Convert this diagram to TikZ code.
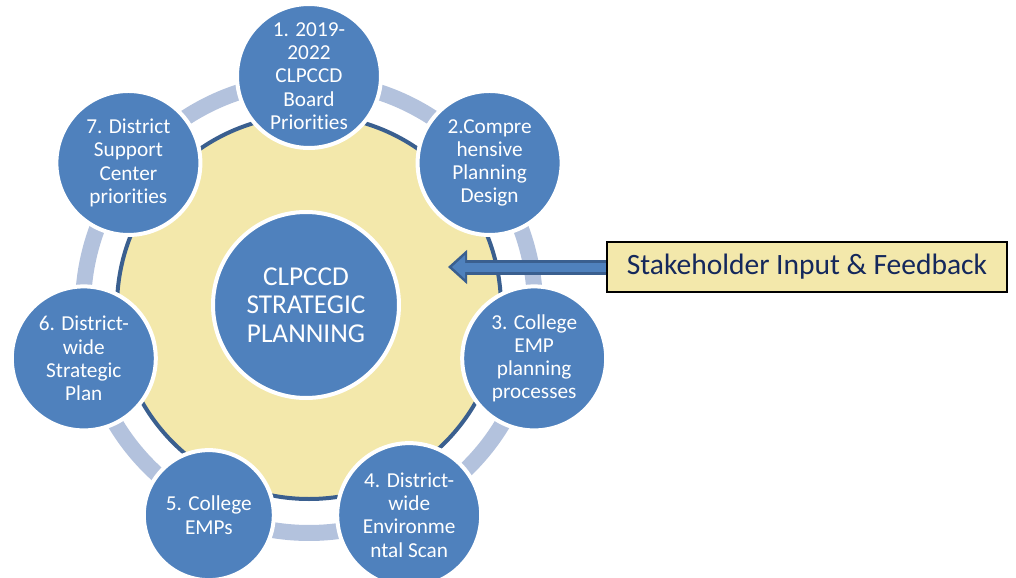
\documentclass[tikz,border=0pt]{standalone}
\usepackage{fontspec}
\setmainfont{Carlito}[Ligatures=NoCommon]
\usepackage{tikz}
\usetikzlibrary{arrows.meta}
\definecolor{stageblue}{HTML}{4F81BD}
\definecolor{rimblue}{HTML}{3A5F8F}
\definecolor{ringblue}{HTML}{B3C2DD}
\definecolor{padyellow}{HTML}{F3E8AB}
\definecolor{inknavy}{HTML}{14285C}

\begin{document}
\begin{tikzpicture}[
  stage/.style={circle, fill=stageblue, draw=white, line width=0.08cm,
    minimum size=2.88cm, inner sep=0pt, align=center, text=white,
    font=\fontsize{12.1}{13.2}\selectfont},
  ringseg/.style={ringblue, line width=0.32cm}
]
\clip (-6.18,-5.40) rectangle (14.14,6.14);

% Light ring pieces between the stages
\foreach \s/\e in {72/56.57, 20.57/5.14, -30.86/-46.29, -82.29/-99.71,
                   -131.71/-149.14, -185.14/-200.57, 123.43/108}
  \draw[ringseg] (\s:4.52) arc[start angle=\s, end angle=\e, radius=4.52];

% Planning field
\filldraw[fill=padyellow, draw=rimblue, line width=0.08cm] (0,0) circle (3.84);

% Hub
\node[stage, minimum size=3.72cm, font=\fontsize{15.5}{16.2}\selectfont] (hub) at (-0.06,0.04)
  {CLPCCD\\STRATEGIC\\PLANNING};

% Stages, clockwise from the top
\node[stage] (s1) at (90:4.62) {1. 2019-\\2022\\CLPCCD\\Board\\Priorities};
\node[stage] (s2) at (38.57:4.62) {2.Compre\\hensive\\Planning\\Design};
\node[stage] (s3) at (-12.86:4.62) {3. College\\EMP\\planning\\processes};
\node[stage] (s4) at (-64.29:4.62) {4. District-\\wide\\Environme\\ntal Scan};
\node[stage, minimum size=2.6cm] (s5) at (-115.71:4.62) {5. College\\EMPs};
\node[stage] (s6) at (-167.14:4.62) {6. District-\\wide\\Strategic\\Plan};
\node[stage] (s7) at (141.43:4.62) {7. District\\Support\\Center\\priorities};

% Feedback box and arrow
\node[draw=black, line width=0.03cm, fill=padyellow, minimum width=8cm, minimum height=1cm,
  text=inknavy, font=\fontsize{16.8}{19}\selectfont] (inputbox) at (9.96,0.80)
  {Stakeholder Input \& Feedback};
\coordinate (feedtip) at (2.78,0.80);
\draw[rimblue, line width=0.3cm, -{Triangle[length=0.38cm,width=0.66cm]}] (inputbox.west) -- (feedtip);
\draw[stageblue, line width=0.18cm, shorten >=0.08cm, -{Triangle[length=0.26cm,width=0.46cm]}] (inputbox.west) -- (feedtip);
\end{tikzpicture}
\end{document}
